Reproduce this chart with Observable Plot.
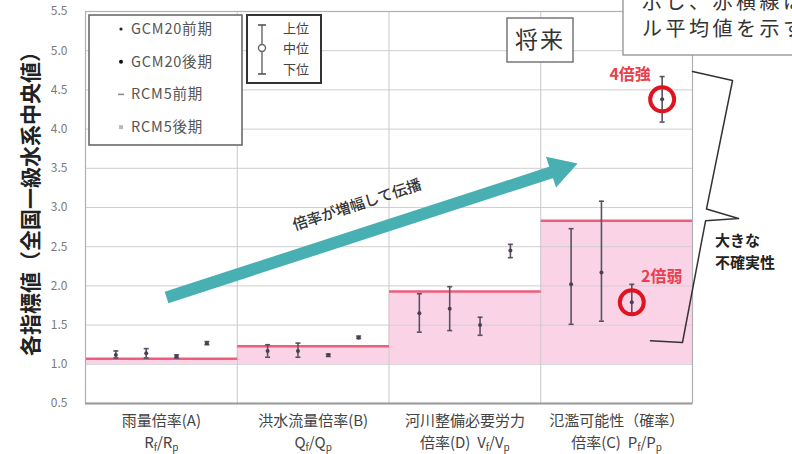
<!DOCTYPE html>
<html>
<head>
<meta charset="utf-8">
<script src="https://cdn.jsdelivr.net/npm/d3@7"></script>
<script src="https://cdn.jsdelivr.net/npm/@observablehq/plot@0.6"></script>
<style>
  body { margin: 0; background: #fff; }
  #chart { position: relative; width: 792px; height: 454px; overflow: hidden; }
</style>
</head>
<body>
<div id="chart"></div>
<script>
// ---------------- data ----------------
const categories = ["雨量倍率(A)", "洪水流量倍率(B)", "河川整備必要労力", "氾濫可能性（確率）"];
const categorySub = ["R_f/R_p", "Q_f/Q_p", "倍率(D)  V_f/V_p", "倍率(C)  P_f/P_p"];
const seriesNames = ["GCM20前期", "GCM20後期", "RCM5前期", "RCM5後期"];
// rows: series, columns: categories
const lowerQ = [
  [1.08, 1.09, 1.41, 1.51],
  [1.08, 1.09, 1.43, 1.55],
  [1.08, 1.10, 1.37, 1.65],
  [1.25, 1.33, 2.36, 4.09]
];
const medianQ = [
  [1.12, 1.17, 1.65, 2.02],
  [1.14, 1.17, 1.71, 2.17],
  [1.10, 1.12, 1.50, 1.79],
  [1.27, 1.34, 2.45, 4.38]
];
const upperQ = [
  [1.17, 1.25, 1.90, 2.73],
  [1.20, 1.27, 1.99, 3.08],
  [1.12, 1.13, 1.60, 2.02],
  [1.29, 1.36, 2.53, 4.67]
];
const ensembleMean = [1.07, 1.23, 1.93, 2.83];
const yTicks = [0.5, 1.0, 1.5, 2.0, 2.5, 3.0, 3.5, 4.0, 4.5, 5.0, 5.5];
const highlightLow = [{ci: 3, si: 2, label: "2倍弱"}];
const highlightHigh = [{ci: 3, si: 3, label: "4倍強"}];
const arrowShaft = [{x1: 0.534, y1: 1.852, x2: 3.077, y2: 3.453}];
const arrowHead = [{x: 3.126, y: 3.487}];
const arrowLabel = [{x: 1.79, y: 3.03, text: "倍率が増幅して伝播"}];
const bracePts = [
  {x: 4.000, y: 4.735}, {x: 4.264, y: 4.620}, {x: 4.092, y: 2.980},
  {x: 4.303, y: 2.860}, {x: 4.086, y: 2.830}, {x: 3.934, y: 1.278}, {x: 3.723, y: 1.300}
];
const yTitle = "各指標値（全国一級水系中央値）";

// ---------------- build ----------------
const FONT = "'Noto Sans CJK JP', 'Noto Sans', sans-serif";
const rows = [];
seriesNames.forEach((s, si) => categories.forEach((c, ci) => rows.push({
  ci, si, series: s, lo: lowerQ[si][ci], mid: medianQ[si][ci], hi: upperQ[si][ci]
})));
const xOf = d => d.ci + (d.si + 1) / 5;
const pick = (list) => list.map(h => ({...rows.find(r => r.ci === h.ci && r.si === h.si), label: h.label}));
const hiLow = pick(highlightLow);
const hiHigh = pick(highlightHigh);
const bands = ensembleMean.map((m, i) => ({x1: i, x2: i + 1, m}));
const labels = categories.map((c, i) => ({x: i + 0.5, top: c, sub: categorySub[i]}));

const capSymbol = {
  draw(ctx, size) {
    const w = Math.sqrt(size / Math.PI);
    ctx.moveTo(-w, 0); ctx.lineTo(w, 0);
  }
};

const TEAL = "#48b0b3";
const plot = Plot.plot({
  width: 792,
  height: 454,
  marginLeft: 85,
  marginRight: 100,
  marginTop: 11,
  marginBottom: 51,
  style: {fontFamily: FONT, fontSize: "12px", background: "#fff", color: "#7a7a7a", overflow: "visible"},
  x: {type: "linear", domain: [0, 4], axis: null},
  y: {domain: [0.5, 5.5], ticks: yTicks, tickFormat: d3.format(".1f"), tickSize: 0, tickPadding: 18, label: null},
  marks: [
    Plot.rect(bands, {x1: "x1", x2: "x2", y1: () => 1.0, y2: "m", fill: "#fbd3e7"}),
    Plot.ruleY(yTicks, {stroke: "#cfcfcf", strokeWidth: 1}),
    Plot.ruleX([1, 2, 3], {stroke: "#c8c8c8", strokeWidth: 1}),
    Plot.link(bands, {x1: "x1", x2: "x2", y1: "m", y2: "m", stroke: "#ef5d7d", strokeWidth: 2.5}),
    Plot.frame({stroke: "#b0b0b0", strokeWidth: 1.2}),
    Plot.ruleY([0.5], {stroke: "#9a9a9a", strokeWidth: 2}),
    // teal arrow
    Plot.link(arrowShaft, {x1: "x1", y1: "y1", x2: "x2", y2: "y2", stroke: TEAL, strokeWidth: 12, strokeLinecap: "butt"}),
    Plot.dot(arrowHead, {x: "x", y: "y", symbol: "triangle", r: 12, fill: TEAL, stroke: "none", rotate: 72}),
    Plot.text(arrowLabel, {x: "x", y: "y", text: "text", rotate: -18, fontSize: 15, fill: "#333", fontWeight: 500}),
    // error bars
    Plot.ruleX(rows, {x: xOf, y1: "lo", y2: "hi", stroke: "#5a5060", strokeWidth: 1.6}),
    Plot.dot(rows, {x: xOf, y: "lo", symbol: capSymbol, r: 2.5, stroke: "#5a5060", strokeWidth: 1.6}),
    Plot.dot(rows, {x: xOf, y: "hi", symbol: capSymbol, r: 2.5, stroke: "#5a5060", strokeWidth: 1.6}),
    Plot.dot(rows, {x: xOf, y: "mid", r: 2, fill: "#4a4050", stroke: "none"}),
    // highlights
    Plot.dot([...hiLow, ...hiHigh], {x: xOf, y: "mid", r: 12, stroke: "#e01420", strokeWidth: 4, fill: "none"}),
    Plot.text(hiLow, {x: xOf, y: "mid", text: "label", dx: 30, dy: -25, fill: "#e8404c", fontSize: 16, fontWeight: "bold"}),
    Plot.text(hiHigh, {x: xOf, y: "mid", text: "label", dx: -32, dy: -24, fill: "#e8404c", fontSize: 16, fontWeight: "bold"}),
    // brace
    Plot.line(bracePts, {x: "x", y: "y", stroke: "#333", strokeWidth: 1.5}),
    // y title
    Plot.text([yTitle], {frameAnchor: "left", text: d => d, rotate: -90, textAnchor: "middle", dx: -54, dy: -9, fontSize: 21, fontWeight: "bold", fill: "#222"}),
    // x labels
    Plot.text(labels, {x: "x", y: () => 0.5, text: "top", dy: 18, fontSize: 15, fill: "#444"}),
    Plot.text(labels, {x: "x", y: () => 0.5, text: "sub", dy: 40, fontSize: 15, fill: "#444"})
  ]
});

document.getElementById("chart").appendChild(plot);

// rebuild subscripts (R_f -> R with subscript f)
const svg = d3.select(plot);
svg.selectAll("text").filter(function () {
  return this.childElementCount === 0 && /_/.test(this.textContent);
}).each(function () {
  const t = d3.select(this);
  const parts = this.textContent.split(/_(.)/);
  t.text("");
  parts.forEach((p, i) => {
    if (!p) return;
    if (i % 2 === 1) {
      t.append("tspan").attr("font-size", "10px").attr("dy", "3").text(p);
    } else {
      const ts = t.append("tspan").text(p);
      if (i > 0) ts.attr("dy", "-3");
    }
  });
});

// ---------------- overlays: legends and callouts ----------------
const ov = svg.append("g").attr("font-family", FONT).attr("text-anchor", "start");

// legend 1: series
ov.append("rect").attr("x", 89).attr("y", 15).attr("width", 153).attr("height", 130)
  .attr("fill", "#fff").attr("stroke", "#6a6a6a").attr("stroke-width", 1.6);
seriesNames.forEach((s, i) => {
  const y = 29 + i * 32.7;
  if (i === 0) ov.append("circle").attr("cx", 121).attr("cy", y).attr("r", 1.6).attr("fill", "#222");
  if (i === 1) ov.append("circle").attr("cx", 121).attr("cy", y).attr("r", 2).attr("fill", "#111");
  if (i === 2) ov.append("line").attr("x1", 118).attr("x2", 124).attr("y1", y).attr("y2", y).attr("stroke", "#888").attr("stroke-width", 1.5);
  if (i === 3) ov.append("rect").attr("x", 119).attr("y", y - 2).attr("width", 4).attr("height", 4).attr("fill", "#bbb");
  ov.append("text").attr("x", 131).attr("y", y).attr("dy", "0.35em").attr("font-size", 14.5)
    .attr("letter-spacing", 0.8).attr("fill", "#555").text(s);
});

// legend 2: quantiles
ov.append("rect").attr("x", 247).attr("y", 15).attr("width", 74).attr("height", 68)
  .attr("fill", "#fff").attr("stroke", "#333").attr("stroke-width", 2);
ov.append("line").attr("x1", 262).attr("x2", 262).attr("y1", 25).attr("y2", 74).attr("stroke", "#666").attr("stroke-width", 1.4);
ov.append("line").attr("x1", 258).attr("x2", 266).attr("y1", 25).attr("y2", 25).attr("stroke", "#555").attr("stroke-width", 1.6);
ov.append("line").attr("x1", 258).attr("x2", 266).attr("y1", 74).attr("y2", 74).attr("stroke", "#555").attr("stroke-width", 1.6);
ov.append("circle").attr("cx", 262).attr("cy", 48).attr("r", 3.5).attr("fill", "#fff").attr("stroke", "#666").attr("stroke-width", 1.4);
[["上位", 28], ["中位", 48.5], ["下位", 69]].forEach(([t, y]) =>
  ov.append("text").attr("x", 283).attr("y", y).attr("dy", "0.35em").attr("font-size", 13).attr("fill", "#444").text(t));

// "将来" box
ov.append("rect").attr("x", 507).attr("y", 18).attr("width", 66).attr("height", 44)
  .attr("fill", "#fff").attr("stroke", "#777").attr("stroke-width", 1.5);
ov.append("text").attr("x", 540).attr("y", 40).attr("dy", "0.35em").attr("text-anchor", "middle")
  .attr("font-size", 23).attr("letter-spacing", 2).attr("fill", "#333").text("将来");

// top-right note box (cut by the picture edge)
ov.append("rect").attr("x", 623).attr("y", -10).attr("width", 200).attr("height", 65)
  .attr("fill", "#fff").attr("stroke", "#888").attr("stroke-width", 1.2);
ov.append("text").attr("x", 642).attr("y", 2).attr("dy", "0.35em").attr("font-size", 20)
  .attr("letter-spacing", 3.5).attr("fill", "#333").text("示し、赤横線は");
ov.append("text").attr("x", 642).attr("y", 29).attr("dy", "0.35em").attr("font-size", 20)
  .attr("letter-spacing", 3.5).attr("fill", "#333").text("ル平均値を示す");

// large uncertainty label
ov.append("text").attr("x", 715).attr("y", 241).attr("dy", "0.35em").attr("font-size", 15)
  .attr("font-weight", 600).attr("fill", "#222").text("大きな");
ov.append("text").attr("x", 715).attr("y", 263).attr("dy", "0.35em").attr("font-size", 15)
  .attr("font-weight", 600).attr("fill", "#222").text("不確実性");
</script>
</body>
</html>
